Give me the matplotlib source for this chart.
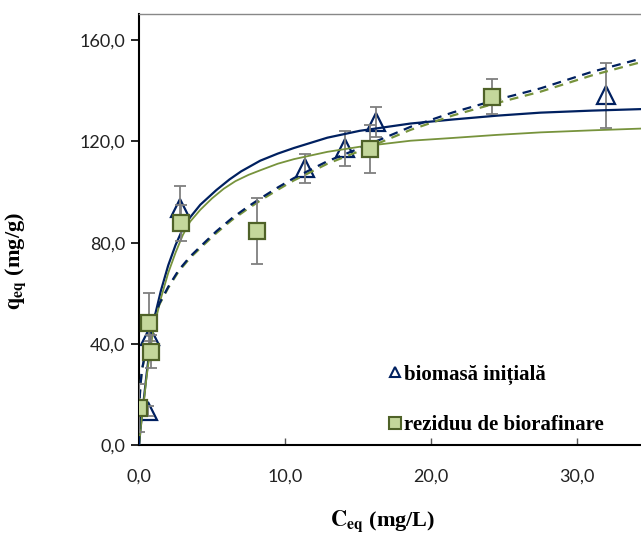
import matplotlib
matplotlib.use("Agg")
import matplotlib.pyplot as plt
from matplotlib.lines import Line2D

# ---- data ----
bio_x = [0.6, 0.75, 2.8, 11.4, 14.1, 16.2, 32.0]
bio_y = [13.5, 43.0, 93.7, 109.4, 117.3, 127.8, 138.3]
bio_err = [2.0, 2.0, 8.8, 5.8, 6.9, 6.0, 12.8]

rez_x = [0.0, 0.7, 0.8, 2.9, 8.1, 15.8, 24.2]
rez_y = [14.6, 48.2, 36.9, 87.7, 84.7, 117.2, 137.7]
rez_err = [9.5, 12.0, 6.5, 7.0, 13.0, 9.5, 7.0]

# Langmuir-type fitted curves (solid)
bio_L_x = [0.0, 0.15, 0.3, 0.5, 0.75, 1.0, 1.5, 2.0, 2.5, 3.0, 3.5, 4.2, 5.3, 6.2, 7.0,
           8.3, 9.5, 10.6, 12.9, 15.1, 18.6, 21.5, 24.5, 27.5, 31.0, 34.4]
bio_L_y = [0.0, 9.0, 16.5, 27.0, 39.0, 49.0, 61.0, 71.0, 79.0, 85.5, 90.0, 95.0, 100.8, 105.0, 108.2,
           112.4, 115.2, 117.4, 121.5, 124.2, 127.1, 128.7, 130.2, 131.4, 132.2, 132.8]
rez_L_x = [0.0, 0.15, 0.3, 0.5, 0.75, 1.0, 1.5, 2.0, 2.5, 3.0, 3.5, 4.2, 5.0, 5.8, 6.6, 7.5,
           8.3, 9.5, 10.6, 12.9, 15.1, 18.6, 21.5, 24.5, 27.5, 31.0, 34.4]
rez_L_y = [0.0, 8.5, 15.5, 26.0, 37.0, 46.0, 58.0, 68.0, 76.0, 83.0, 88.3, 93.0, 97.5, 101.3, 104.3, 106.8,
           108.6, 111.2, 113.0, 115.9, 117.9, 120.3, 121.4, 122.6, 123.6, 124.4, 125.1]

# Freundlich-type fitted curves (dashed)
bio_F_x = [0.0, 0.05, 0.1, 0.2, 0.4, 0.7, 1.0, 1.4, 2.0, 2.7, 3.5, 4.3, 5.3, 6.35, 7.4,
           8.4, 9.5, 10.6, 12.9, 15.1, 18.6, 21.5, 24.5, 27.5, 31.0, 34.4]
bio_F_y = [0.0, 19.0, 23.8, 29.7, 35.5, 44.0, 49.5, 56.0, 62.5, 69.0, 74.5, 79.0, 84.5, 89.6, 94.0,
           97.8, 101.8, 105.5, 112.2, 117.3, 125.8, 131.5, 136.5, 141.0, 147.5, 152.8]
rez_F_x = [0.0, 0.05, 0.1, 0.2, 0.4, 0.7, 1.0, 1.4, 2.0, 2.7, 3.5, 4.3, 5.3, 6.35, 7.4,
           8.4, 9.5, 10.6, 12.9, 15.1, 18.6, 21.5, 24.5, 27.5, 31.0, 34.4]
rez_F_y = [0.0, 18.8, 23.6, 29.4, 35.2, 43.7, 49.2, 55.6, 62.1, 68.5, 74.0, 78.4, 83.8, 88.9, 93.2,
           97.0, 100.9, 104.6, 111.2, 116.2, 124.6, 130.3, 135.2, 139.7, 146.1, 151.4]

xticks = [0, 10, 20, 30]
xtick_labels = ["0,0", "10,0", "20,0", "30,0"]
yticks = [0, 40, 80, 120, 160]
ytick_labels = ["0,0", "40,0", "80,0", "120,0", "160,0"]

labels = ["biomasă inițială", "reziduu de biorafinare"]

# ---- style ----
navy = "#002060"
green = "#77933c"
sq_face = "#c4d79b"
sq_edge = "#4f6228"
err_col = "#7f7f7f"

plt.rcParams["mathtext.fontset"] = "stix"

fig = plt.figure(figsize=(6.41, 5.34), dpi=100)
ax = fig.add_axes([139 / 641, 89 / 534, 502 / 641, 431 / 534])

# triangles (open)
ax.plot(bio_x, bio_y, linestyle="none", marker="^", markersize=13,
        markerfacecolor="none", markeredgecolor=navy, markeredgewidth=1.6, zorder=2)
ax.errorbar(bio_x, bio_y, yerr=bio_err, fmt="none", ecolor=err_col,
            elinewidth=1.3, capsize=4.3, capthick=1.3, zorder=2.5)

# curves
ax.plot(bio_L_x, bio_L_y, color=navy, lw=1.6, zorder=3)
ax.plot(rez_L_x, rez_L_y, color=green, lw=1.3, zorder=3)
ax.plot(rez_F_x, rez_F_y, color=green, lw=1.6, dashes=(4, 3), zorder=3)
ax.plot(bio_F_x, bio_F_y, color=navy, lw=1.6, dashes=(4, 3), zorder=3.1)

# squares
ax.errorbar(rez_x, rez_y, yerr=rez_err, fmt="none", ecolor=err_col,
            elinewidth=1.3, capsize=4.3, capthick=1.3, zorder=3.5)
ax.plot(rez_x, rez_y, linestyle="none", marker="s", markersize=12,
        markerfacecolor=sq_face, markeredgecolor=sq_edge, markeredgewidth=1.6, zorder=4)

ax.set_xlim(0, 34.38)
ax.set_ylim(0, 170.4)
ax.set_xticks(xticks)
ax.set_xticklabels(xtick_labels)
ax.set_yticks(yticks)
ax.set_yticklabels(ytick_labels)

for lab in ax.get_xticklabels() + ax.get_yticklabels():
    lab.set_family("Lato")
    lab.set_fontsize(13)
    lab.set_color("#222222")

ax.tick_params(axis="y", direction="out", length=6, width=1.2, color="black", pad=4)
ax.tick_params(axis="x", direction="in", length=5, width=1.0, color="#555555", pad=17)

ax.spines["right"].set_visible(False)
ax.spines["top"].set_color("#888888")
ax.spines["top"].set_linewidth(1.0)
ax.spines["left"].set_linewidth(1.5)
ax.spines["bottom"].set_linewidth(1.5)

ax.set_xlabel(r"$\mathbf{C_{eq}}$ (mg/L)", fontfamily="Liberation Serif",
              fontweight="bold", fontsize=16)
ax.xaxis.set_label_coords(0.486, -0.147)
ax.set_ylabel(r"$\mathbf{q_{eq}}$ (mg/g)", fontfamily="Liberation Serif",
              fontweight="bold", fontsize=16)
ax.yaxis.set_label_coords(-0.222, 0.427)

handles = [
    Line2D([], [], linestyle="none", marker="^", markersize=7.5,
           markerfacecolor="none", markeredgecolor=navy, markeredgewidth=1.5),
    Line2D([], [], linestyle="none", marker="s", markersize=9,
           markerfacecolor=sq_face, markeredgecolor=sq_edge, markeredgewidth=1.5),
]
leg = ax.legend(handles, labels, loc="center left", bbox_to_anchor=(0.46, 0.105),
                frameon=False, handlelength=0.6, handletextpad=0.15, labelspacing=1.45,
                prop={"family": "Liberation Serif", "weight": "bold", "size": 15})

fig.savefig("out.png", dpi=100)
